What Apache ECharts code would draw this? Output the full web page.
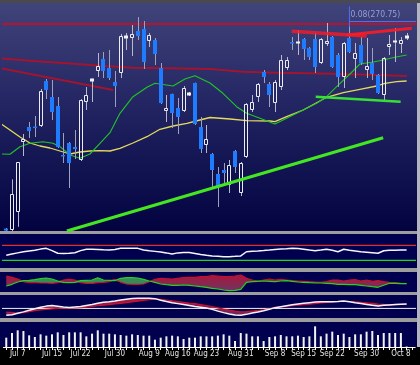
<!DOCTYPE html>
<html><head><meta charset="utf-8">
<script src="https://cdn.jsdelivr.net/npm/echarts@6/dist/echarts.min.js"></script>
<style>html,body{margin:0;padding:0;background:#000;overflow:hidden}#c{width:420px;height:365px}</style>
</head><body><div id="c"></div>
<script>
// ---------- DATA ----------
const tickIndex  = [2, 8, 13, 19, 25, 30, 35, 41, 47, 52, 57, 63, 69];
const tickLabels = ['Jul 7','Jul 15','Jul 22','Jul 30','Aug 9','Aug 16','Aug 23','Aug 31','Sep 8','Sep 15','Sep 22','Sep 30','Oct 8'];

const opens = [167.2,166.5,175.6,210.5,218,218.2,218.5,241,233,228.5,
  204,210,208,201.5,230.5,241,246,252,247.5,240.5,
  245,262.5,262.5,266,267,261,261.5,247.5,226,234.5,
  227.5,226,234,240,218,209,204.5,194.5,196.5,189,
  206,185,203,226.5,233,245.5,239.5,230,238,247.5,
  260.5,260,262,257.5,262,250,259.5,263,254,243,
  262.5,252,259,246.5,250,244,234,258,260.5,259.5,262.5];
const closes = [166.2,184.4,200.3,212,216,217.8,236,236.5,225.5,208,
  203.8,200,207,231.5,234,242,248.5,246,242.5,238.5,
  263.5,263.5,264.5,263.5,250.5,264,254.5,230,227.5,225,
  223,237.5,235,219.5,207,212,196.5,188,195,199,
  198,200,229.5,230.5,239.5,243,234,240.5,251.5,251.5,
  260,260.5,257,253,248,262,261,248,243,260,
  255.5,255,250,248.5,244.5,235,252.5,259.5,261,261.5,263.5];
const highs = [167.5,191.8,200.5,214.5,220.5,223.5,237,242,241.5,233,
  215,210.5,216.5,232,238,242.2,255,255.5,256.5,246,
  264.5,265,269,273,271,265,262.5,250,234,234.7,
  232.5,238.5,235.5,240.2,223,219,205,198,200,201.5,
  206.5,200.5,230,234,240,246.5,240.5,241.5,254,253,
  263,266.5,262.5,258,265,262.5,270,263.5,255,260.5,
  269,260,263,262.5,257.5,244.5,253,264,267.5,263,265];
const lows = [165.5,165,168.1,203.5,212.5,213,218,232,221.5,207.5,
  200,187.5,202,201,226.5,230.5,243,242.5,241.5,228,
  242.5,256.5,253.5,261.5,247,258,249,229.5,220.5,217.5,
  214.5,225.5,233.5,219,205,205,188,178,190,185,
  195,183.5,202.5,225.5,230.5,240,228,225.5,236.5,246.5,
  256.5,254,251.5,251.5,245,249.5,258.5,247.5,238,237.5,
  255,242.5,249,242.5,241.5,234.5,231.5,254,250.5,255,261.5];

const volumes = [2800,4200,5000,4800,3500,3000,3800,3400,3800,4400,
  3600,4400,4400,4400,3200,4000,5000,4000,4000,3800,
  3600,3400,3800,3600,3400,3400,2200,2800,3200,3400,
  3200,2400,2800,2800,3200,3200,3200,3400,3800,3400,
  1800,4200,4000,3200,3200,1800,3000,3200,3600,3200,
  3200,3400,3000,3200,6200,3200,4000,4600,3600,4000,
  3000,3800,3800,4600,4800,3600,4200,4200,4200,4200,150];

const rsi = [44,47,50,53,55,57,60,62,56,49,
  48.5,49,50.5,56,59.5,59.5,59,58,57.5,59,
  62,62,62,62,57.5,55.5,54,52.5,50,47,
  50,51,51,48.5,45.5,43.5,42,41,40,40,
  40.8,42,53,54.5,55.3,56.3,57.6,59,60.3,61,
  62,61.7,59.8,57.6,55.8,57.6,59.5,56.8,53.1,59.5,
  57,55,52.9,51.6,50.3,49,55.8,56.8,57.3,57.6,57.6];
const rsiLevels = [70, 30];

const macdGreen = [-4,-2.3,0,1.3,1.7,2.3,3.3,4,3,1,
  -0.3,-0.7,-0.3,1.3,1.7,2,4.3,2,1.7,1.3,
  3.7,4.3,4.3,4,2.7,1,-0.3,-2,-2.7,-3.3,
  -3.3,-3,-3.3,-4,-4.7,-5.3,-6.3,-7,-8,-8.7,
  -8.3,-7.3,-0.3,0.3,0.7,1,0.7,0.3,1,1.3,
  0.7,0,-0.3,-0.7,-1,-1,-1.3,-1.7,-2.3,-2.3,
  -2.7,-2.7,-3.3,-4,-4.7,-5.3,-3.3,-1.3,-1.3,-1.7,-1.7];
const macdRed = [6,4.7,3,0.3,-0.7,-0.7,-1,-1,-1.3,-0.7,
  2,2.7,2,-0.7,-1.3,-1.3,-0.7,-0.3,0.3,2.7,
  -0.3,-2,-2.3,-2.3,-2,0.3,2.7,3.7,3.3,3,
  3.7,4.3,4.7,4.7,5.3,5.3,6.3,6,5.3,5.3,
  6,7,3.7,2,1,2,3,2,2.7,2,
  1.3,1,0.7,0.3,0,-0.3,0.3,2,2,1,
  2,2.3,1,2,0.7,1.3,0.3,-0.3,-0.7,-1.3,-1.7];

const stochK = [14,17,25,32,40,48,56,62,65,61,
  57,55,58,60,65,70,77,82,85,89,
  94,98,102,103,103,103,101,93,86,80,
  75,70,65,60,56,52,45,36,28,21,
  16,14,19,26,31,38,46,54,59,64,
  69,73,77,80,83,85,85,85,86,89,
  85,80,76,71,66,62,66,68,70,72,73];
const stochD = [31,28,25,28,33,38,42,45,48,50,
  51,52,53,54,56,60,64,67,70,73,
  76,80,84,88,92,96,99,97,94,90,
  86,82,78,75,70,65,60,53,46,41,
  36,32,33,36,39,42,48,55,58,61,
  64,67,70,72,75,79,82,84,86,87,
  86,84,82,79,76,73,71,70,70,71,71.5];
const stochMid = 50;

// moving averages: [bar index, price]
const maYellow = [[-1.1,220],[0.65,216.5],[2.4,213],[4.14,210],[5.89,208.5],[7.64,207.5],[9.39,206],[11.14,204.5],[12.88,205.5],[14.63,206],[16.38,206.15],[18.13,206],[19.88,207.35],[22.15,210],[24.6,213.15],[26.87,216.85],[29.15,218.5],[31.59,219.85],[33.86,221.5],[35.61,222.75],[39.11,222],[42.03,221.15],[46.1,221],[46.98,220.65],[49.02,223.15],[51.92,226.5],[54.27,230.15],[56.01,232.85],[58.92,235.15],[61.84,236.85],[64.76,238.5],[66.21,239.85],[68.25,240.65],[70,241]];
const maGreen = [[-0.8,204.5],[0.65,204.35],[2.4,208.15],[4.14,209.85],[6.42,210.65],[8.16,209.85],[9.39,208.15],[11.14,204],[12.88,202.35],[14.63,204.5],[16.38,209.85],[18.13,215.15],[19.88,224.85],[22.15,233.15],[24.6,237.85],[26,239.85],[29.15,238.5],[31.24,242],[32.99,243.65],[35.61,240],[37.88,234.85],[40.28,228.15],[42.03,224.85],[44.35,222.35],[46.98,219.5],[49.02,222.35],[51.92,226.5],[54.27,229.85],[56.01,233.15],[57.76,238.15],[60.09,244.5],[61.84,249.5],[64.16,250.5],[65.91,251.5],[67.95,252.85],[70,254]];
const maRed = [[-1.1,252.35],[4.67,251],[10.61,249.85],[16.38,248.65],[22.15,247.65],[28.09,247.35],[35.61,247],[41.38,245.65],[47.33,245.15],[53.09,244.85],[58.86,244.5],[64.8,244],[70.05,243.5]];

// drawn trend lines: [bar index, price]
const resistanceLine = [[-1.1,269.5],[71.9,269.5]];
const redTrend       = [[-1.1,247.5],[18.7,236.5]];
const greenTrend     = [[10.6,166],[65.9,212.65]];
const greenShort     = [[54.1,233.15],[68.95,230.65]];
const redTopA        = [[49.9,265.85],[63.0,263.5]];
const redTopB        = [[59.5,264],[70.9,267.35]];
const noteBar = 60, noteTop = 278.2, noteBottom = 268, notePrice = 270.75, noteEnd = 71.9;
const noteText = '0.08(270.75)';

// ---------- BUILD ----------
const nBars = opens.length;
const categories = [];
for (let i = 0; i <= nBars; i++) { const j = tickIndex.indexOf(i); categories.push(j >= 0 ? tickLabels[j] : ''); }
const candleData = opens.map((o, i) => [i, o, closes[i], highs[i], lows[i]]);
const macdBase = macdGreen.map((g, i) => Math.min(g, macdRed[i]));
const macdUp   = macdGreen.map((g, i) => Math.max(g - macdRed[i], 0));
const macdDown = macdGreen.map((g, i) => Math.max(macdRed[i] - g, 0));
const stBase = stochK.map((k, i) => Math.min(k, stochD[i]));
const stDiff = stochK.map((k, i) => Math.abs(k - stochD[i]));

const FONT = "'Liberation Sans Narrow','DejaVu Sans Condensed','Liberation Sans',sans-serif";
const GL = 3.4, GR = 4.8;

function renderCandle(params, api) {
  const i = api.value(0), o = api.value(1), c = api.value(2), h = api.value(3), l = api.value(4);
  const pO = api.coord([i, o]), pC = api.coord([i, c]), pH = api.coord([i, h]), pL = api.coord([i, l]);
  const cx = Math.round(pO[0]);
  const top = Math.min(pO[1], pC[1]), bot = Math.max(pO[1], pC[1]);
  const wx = cx + 0.5;
  const kids = [];
  if (c >= o) {
    if (bot - top < 2.5) {
      kids.push({type:'line', shape:{x1:wx,y1:pH[1],x2:wx,y2:pL[1]}, style:{stroke:'#b8b8c8',lineWidth:1}});
      kids.push({type:'rect', shape:{x:cx-2,y:top-0.5,width:4,height:Math.max(bot-top,1)+1}, style:{fill:'#f2f2f6'}});
    } else {
      kids.push({type:'line', shape:{x1:wx,y1:pH[1],x2:wx,y2:top}, style:{stroke:'#b8b8c8',lineWidth:1}});
      kids.push({type:'line', shape:{x1:wx,y1:bot,x2:wx,y2:pL[1]}, style:{stroke:'#b8b8c8',lineWidth:1}});
      const t = Math.round(top) + 0.5, b = Math.round(bot) - 0.5;
      kids.push({type:'rect', shape:{x:cx-1.5,y:t,width:3,height:b-t}, style:{fill:'rgba(0,0,0,0)', stroke:'#ececf4', lineWidth:1}});
    }
  } else {
    kids.push({type:'line', shape:{x1:wx,y1:pH[1],x2:wx,y2:pL[1]}, style:{stroke:'#9ca2bc',lineWidth:1}});
    kids.push({type:'rect', shape:{x:cx-2,y:top,width:4,height:Math.max(bot-top,1.5)}, style:{fill:'#1f7cff'}});
  }
  return {type:'group', children:kids};
}

function line(data, color, width, xi, yi, z, extra) {
  return Object.assign({type:'line', xAxisIndex:xi, yAxisIndex:yi, data:data, symbol:'none', silent:true,
    clip:false, z:z || 2, lineStyle:{color:color, width:width}}, extra || {});
}

const rect = (x, y, w, h, fill) => ({type:'rect', silent:true, z:-10, shape:{x:x,y:y,width:w,height:h}, style:{fill:fill}});
const NAVY = '#00004e', GREY = '#9d9d9d';

const option = {
  animation: false,
  backgroundColor: '#000000',
  graphic: [
    rect(0, 0, 420, 3, '#4a4a4e'),
    rect(0, 3, 417, 228, {type:'linear', x:0, y:0, x2:0, y2:1, colorStops:[
      {offset:0, color:'#41447a'}, {offset:0.45, color:'#222562'}, {offset:1, color:'#020240'}]}),
    rect(0, 231, 420, 3, GREY),
    rect(0, 234, 417, 34, NAVY),
    rect(0, 268, 420, 4, GREY),
    rect(0, 272, 417, 20, NAVY),
    rect(0, 292, 420, 3, GREY),
    rect(0, 295, 417, 23, NAVY),
    rect(0, 318, 420, 4, GREY),
    rect(0, 322, 417, 25, NAVY),
    rect(417, 3, 3, 344, '#b4b4c0')
  ],
  grid: [
    {left:GL, right:GR, top:3,   height:228},
    {left:GL, right:GR, top:234, height:34},
    {left:GL, right:GR, top:272, height:20},
    {left:GL, right:GR, top:295, height:23},
    {left:GL, right:GR, top:322, height:25}
  ],
  xAxis: [
    {type:'value', gridIndex:0, min:-0.5, max:nBars + 0.5, show:false},
    {type:'category', gridIndex:1, data:categories, show:false},
    {type:'category', gridIndex:2, data:categories, show:false},
    {type:'category', gridIndex:3, data:categories, show:false},
    {type:'category', gridIndex:4, data:categories,
      axisLine:{show:true, lineStyle:{color:'#ffffff', width:1}},
      axisTick:{show:true, alignWithLabel:true, interval:0, length:3, lineStyle:{color:'#ffffff'}},
      axisLabel:{interval:0, color:'#e4e4e4', fontSize:8, fontFamily:FONT, margin:3},
      splitLine:{show:false}},
    {type:'value', gridIndex:1, min:-0.5, max:nBars + 0.5, show:false},
    {type:'value', gridIndex:3, min:-0.5, max:nBars + 0.5, show:false}
  ],
  yAxis: [
    {type:'value', gridIndex:0, min:166, max:280, show:false},
    {type:'value', gridIndex:1, min:10, max:100, show:false},
    {type:'value', gridIndex:2, min:-10, max:10, show:false},
    {type:'value', gridIndex:3, min:0, max:120, show:false},
    {type:'value', gridIndex:4, min:0, max:7500, show:false}
  ],
  series: [
    // main panel
    line(maRed, '#a3142f', 2, 0, 0, 2),
    line(redTrend, '#a3142f', 2, 0, 0, 2),
    line(resistanceLine, '#b8122e', 2, 0, 0, 2),
    line(maYellow, '#e4da5c', 1.3, 0, 0, 2),
    line(maGreen, '#22c424', 1.1, 0, 0, 2),
    {type:'custom', xAxisIndex:0, yAxisIndex:0, data:candleData, renderItem:renderCandle,
      encode:{x:0, y:[1,2,3,4]}, clip:true, silent:true, z:3},
    line(greenTrend, '#44e622', 3, 0, 0, 4),
    line(greenShort, '#36e036', 2.5, 0, 0, 4),
    line(redTopA, 'rgba(255,25,35,0.8)', 3.5, 0, 0, 4),
    line(redTopB, 'rgba(255,25,35,0.9)', 3, 0, 0, 4),
    line([[noteBar, noteTop], [noteBar, noteBottom]], '#4d70f0', 1, 0, 0, 5),
    line([[noteBar, notePrice], [noteEnd, notePrice]], '#4d70f0', 1, 0, 0, 5),
    {type:'scatter', xAxisIndex:0, yAxisIndex:0, data:[[noteBar, notePrice]], symbolSize:1,
      itemStyle:{color:'rgba(0,0,0,0)'}, silent:true, z:6,
      label:{show:true, formatter:noteText, position:[1.5,-10.5], color:'#a6b6f6', fontSize:8.5, fontFamily:FONT}},
    // RSI panel
    line([[-1.1, rsiLevels[0]], [71.8, rsiLevels[0]]], '#e0302a', 1.2, 5, 1, 2),
    line([[-1.1, rsiLevels[1]], [71.8, rsiLevels[1]]], '#22d622', 1.2, 5, 1, 2),
    line(rsi, '#f6f6ff', 1.5, 1, 1, 3, {clip:true}),
    // MACD-like panel
    line(macdBase, 'rgba(0,0,0,0)', 0, 2, 2, 2, {stack:'m', stackStrategy:'all', clip:true}),
    line(macdUp, 'rgba(0,0,0,0)', 0, 2, 2, 2, {stack:'m', stackStrategy:'all', clip:true,
      areaStyle:{color:'#3a8a58', opacity:1}}),
    line(macdDown, 'rgba(0,0,0,0)', 0, 2, 2, 2, {stack:'m', stackStrategy:'all', clip:true,
      areaStyle:{opacity:1, color:{type:'linear', x:0, y:0, x2:0, y2:1, colorStops:[
        {offset:0, color:'#a8163c'}, {offset:1, color:'#6e3560'}]}}}),
    line(macdRed, '#c8102e', 1.2, 2, 2, 3, {clip:true}),
    line(macdGreen, '#22d422', 1.2, 2, 2, 3, {clip:true}),
    // stochastic panel
    line([[-1.1, stochMid], [71.8, stochMid]], '#f0f0f0', 1, 6, 3, 2),
    line(stBase, 'rgba(0,0,0,0)', 0, 3, 3, 2, {stack:'s', clip:true}),
    line(stDiff, 'rgba(0,0,0,0)', 0, 3, 3, 2, {stack:'s', clip:true,
      areaStyle:{opacity:1, color:{type:'linear', x:0, y:0, x2:0, y2:1, colorStops:[
        {offset:0, color:'#a8163a'}, {offset:1, color:'#6a2a5a'}]}}}),
    line(stochD, '#cc102e', 1.2, 3, 3, 3, {clip:true}),
    line(stochK, '#f4f4ff', 1.5, 3, 3, 4, {clip:true}),
    // volume
    {type:'bar', xAxisIndex:4, yAxisIndex:4, data:volumes, barWidth:2, silent:true,
      itemStyle:{color:'#f2f2f2'}}
  ]
};
const chart = echarts.init(document.getElementById('c'), null, {renderer:'canvas'});
chart.setOption(option);
</script>
</body></html>
